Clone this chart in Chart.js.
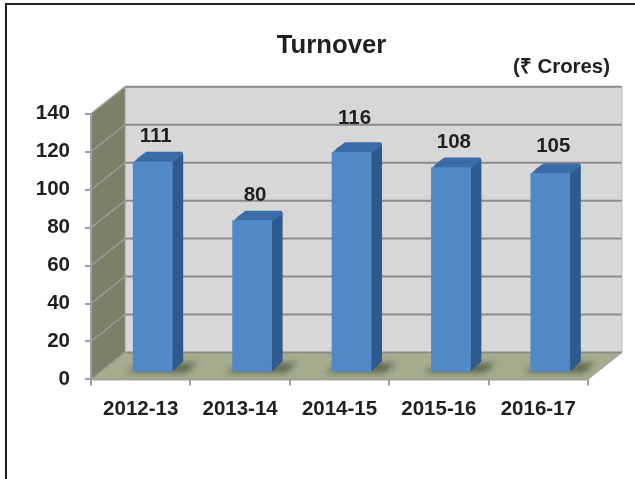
<!DOCTYPE html>
<html>
<head>
<meta charset="utf-8">
<script src="https://cdn.jsdelivr.net/npm/chart.js@4"></script>
<style>
  html, body { margin: 0; padding: 0; background: #fff; }
  #wrap { position: absolute; left: 0; top: 0; width: 635px; height: 479px; }
</style>
</head>
<body>
<div id="wrap"><canvas id="turnover" width="635" height="479"></canvas></div>
<script>
const years = ['2012-13', '2013-14', '2014-15', '2015-16', '2016-17'];
const turnover = [111, 80, 116, 108, 105];
const yTicks = [0, 20, 40, 60, 80, 100, 120, 140];
const unitText = '(₹ Crores)';

const FONT = '"Liberation Sans", Arial, sans-serif';
const INK = '#231f20';
// how far the back wall sits from the front plane
const DEPTH_X = 34, DEPTH_Y = -27;
// bars stand in the middle of the floor
const BAR_X = 12, BAR_Y = -7;
const SIDE_X = 11, SIDE_Y = -10;
// the reference does not lift its value labels evenly
const labelLift = [20, 20, 28, 20, 21];

const box3d = {
    id: 'box3d',
    beforeDatasetsDraw(chart) {
        const ctx = chart.ctx, y = chart.scales.y, a = chart.chartArea;
        const poly = (pts, fill) => {
            ctx.beginPath();
            pts.forEach((p, i) => i ? ctx.lineTo(p[0], p[1]) : ctx.moveTo(p[0], p[1]));
            ctx.closePath();
            ctx.fillStyle = fill;
            ctx.fill();
        };
        const line = (x1, y1, x2, y2, col, w) => {
            ctx.beginPath();
            ctx.moveTo(x1, y1);
            ctx.lineTo(x2, y2);
            ctx.strokeStyle = col;
            ctx.lineWidth = w;
            ctx.stroke();
        };
        ctx.save();
        const backL = a.left + DEPTH_X, backR = a.right + DEPTH_X;
        const backT = a.top + DEPTH_Y, backB = a.bottom + DEPTH_Y;
        // back wall
        poly([[backL, backT], [backR, backT], [backR, backB], [backL, backB]], '#d7d7d7');
        // left wall
        poly([[a.left, a.top], [backL, backT], [backL, backB], [a.left, a.bottom]], '#7d8067');
        // floor
        poly([[a.left, a.bottom], [backL, backB], [backR, backB], [a.right, a.bottom]], '#a5ad8e');
        yTicks.forEach(v => {
            const py = y.getPixelForValue(v);
            line(backL, py + DEPTH_Y, backR, py + DEPTH_Y, '#8c8c8c', 2);
            line(a.left, py, backL, py + DEPTH_Y, '#9a9a9a', 1.5);
        });
        line(backR, backT, backR, backB, '#bdbdbd', 1);
        line(backL, backT, backL, backB, '#9a9a9a', 1);
        line(a.left, a.top, a.left, a.bottom, '#a0a0a0', 2);
        line(a.left, a.bottom, a.right, a.bottom, '#a0a0a0', 2);
        line(a.right, a.bottom, backR, backB, '#a0a0a0', 1);
        // bar shadows on the floor
        chart.getDatasetMeta(0).data.forEach(bar => {
            const l = bar.x - bar.width / 2 + BAR_X, r = bar.x + bar.width / 2 + BAR_X;
            const b = a.bottom + BAR_Y;
            ctx.save();
            ctx.filter = 'blur(3px)';
            poly([[l - 8, b], [l + 4, b - 6], [r + 26, b - 10], [r + 14, b]], 'rgba(50,55,40,0.65)');
            ctx.restore();
        });
        ctx.restore();
    },
    beforeDatasetDraw(chart) {
        const ctx = chart.ctx;
        ctx.save();
        ctx.translate(BAR_X, BAR_Y);
        // side and top faces, the front face is the library's bar on top of them
        chart.getDatasetMeta(0).data.forEach(bar => {
            const l = bar.x - bar.width / 2, r = bar.x + bar.width / 2;
            ctx.beginPath();
            ctx.moveTo(r, bar.base);
            ctx.lineTo(r + SIDE_X, bar.base + SIDE_Y);
            ctx.lineTo(r + SIDE_X, bar.y + SIDE_Y + 2);
            ctx.lineTo(r, bar.y);
            ctx.closePath();
            ctx.fillStyle = '#2f5a8e';
            ctx.fill();
            ctx.beginPath();
            ctx.moveTo(l, bar.y + 1);
            ctx.quadraticCurveTo(l + 5, bar.y + SIDE_Y + 5, l + SIDE_X + 2, bar.y + SIDE_Y);
            ctx.lineTo(r + SIDE_X - 2, bar.y + SIDE_Y);
            ctx.quadraticCurveTo(r + SIDE_X, bar.y + SIDE_Y, r + SIDE_X, bar.y + SIDE_Y + 3);
            ctx.lineTo(r, bar.y + 1);
            ctx.closePath();
            ctx.fillStyle = '#3a6ca8';
            ctx.fill();
        });
    },
    afterDatasetDraw(chart) {
        chart.ctx.restore();
    },
    afterDatasetsDraw(chart) {
        const ctx = chart.ctx;
        ctx.save();
        ctx.font = 'bold 20.5px ' + FONT;
        ctx.fillStyle = INK;
        ctx.textAlign = 'center';
        ctx.textBaseline = 'alphabetic';
        chart.getDatasetMeta(0).data.forEach((bar, i) => {
            ctx.fillText(turnover[i], bar.x + BAR_X + 3, bar.y + BAR_Y - labelLift[i]);
        });
        // unit note hangs past the plot on the right
        ctx.font = 'bold 20.4px ' + FONT;
        ctx.textAlign = 'right';
        ctx.fillText(unitText, 610, 73);
        ctx.restore();
    }
};

const frame = {
    id: 'frame',
    beforeDraw(chart) {
        const ctx = chart.ctx;
        ctx.save();
        ctx.strokeStyle = INK;
        ctx.lineWidth = 2;
        ctx.beginPath();
        ctx.moveTo(6, 479);
        ctx.lineTo(6, 4);
        ctx.lineTo(635, 4);
        ctx.stroke();
        ctx.restore();
    }
};

new Chart(document.getElementById('turnover'), {
    type: 'bar',
    data: {
        labels: years,
        datasets: [{
            label: 'Turnover',
            data: turnover,
            backgroundColor(c) {
                const area = c.chart.chartArea;
                const meta = c.chart.getDatasetMeta(0).data[c.dataIndex];
                if (!area || !meta || !isFinite(meta.x)) return '#5088c8';
                const l = meta.x - meta.width / 2, r = meta.x + meta.width / 2;
                const g = c.chart.ctx.createLinearGradient(l, 0, r, 0);
                g.addColorStop(0, '#4a80bf');
                g.addColorStop(0.5, '#5b8dcb');
                g.addColorStop(0.95, '#5287c6');
                g.addColorStop(1, '#3b6ea9');
                return g;
            },
            borderWidth: 0,
            barThickness: 39
        }]
    },
    options: {
        responsive: false,
        animation: false,
        layout: { padding: { left: 75, right: 47, top: 0, bottom: 45 } },
        scales: {
            x: {
                grid: { display: true, drawOnChartArea: false, drawTicks: true, tickLength: 6, color: '#a0a0a0', lineWidth: 2 },
                border: { display: false },
                ticks: { color: INK, font: { family: FONT, size: 20.5, weight: 'bold' }, padding: 12, maxRotation: 0 }
            },
            y: {
                min: 0,
                max: 140,
                afterBuildTicks(axis) { axis.ticks = yTicks.map(v => ({ value: v })); },
                // narrow box so the labels run into the left padding and the title stays centred,
                // the label clip has to go or they disappear
                afterFit(axis) {
                    axis.width = 16;
                    axis._computeLabelArea = () => undefined;
                },
                grid: { display: true, drawOnChartArea: false, drawTicks: true, tickLength: 6, color: '#a0a0a0', lineWidth: 2 },
                border: { display: false },
                ticks: { color: INK, font: { family: FONT, size: 20.5, weight: 'bold' }, padding: 15 }
            }
        },
        plugins: {
            legend: { display: false },
            tooltip: { enabled: false },
            title: {
                display: true,
                text: 'Turnover',
                color: INK,
                font: { family: FONT, size: 25.7, weight: 'bold' },
                padding: { top: 30, bottom: 53 }
            }
        }
    },
    plugins: [frame, box3d]
});
</script>
</body>
</html>
